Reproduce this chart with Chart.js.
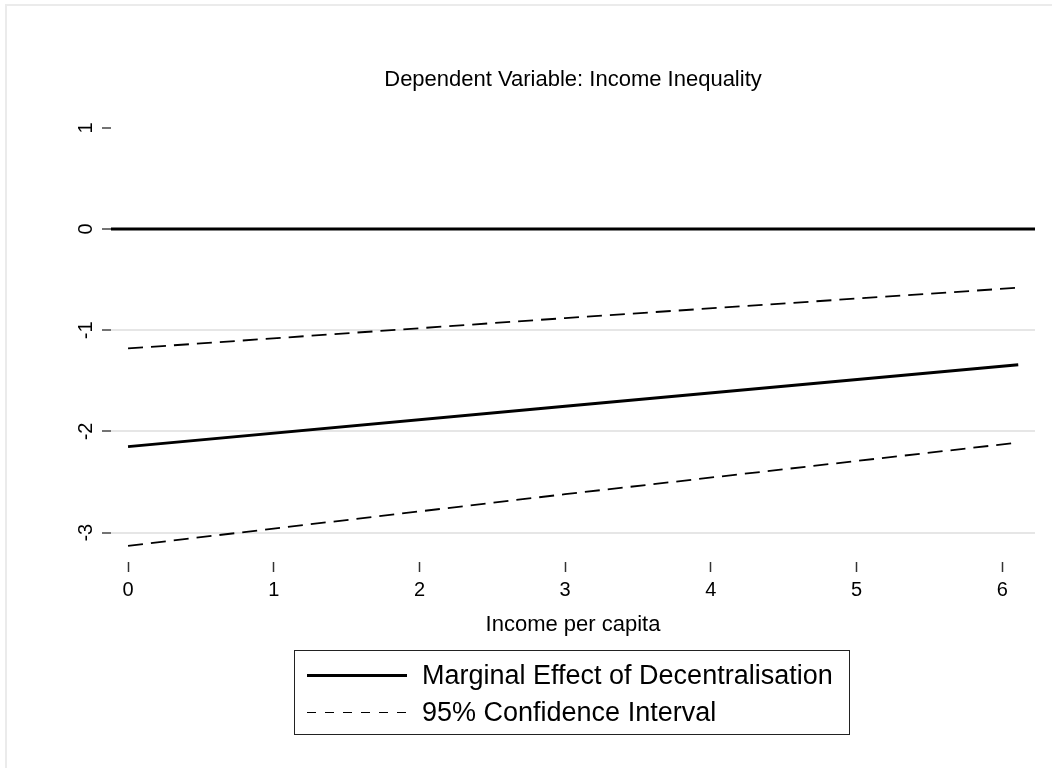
<!DOCTYPE html>
<html>
<head>
<meta charset="utf-8">
<script src="https://cdn.jsdelivr.net/npm/chart.js@4.4.1/dist/chart.umd.min.js"></script>
<style>
    body { margin: 0; background: #fff; font-family: "Liberation Sans", Arial, sans-serif; }
    #wrap { position: relative; width: 1052px; height: 768px; overflow: hidden; }
    #frame { position: absolute; left: 5px; top: 4px; width: 1100px; height: 800px;
             border-top: 2px solid #ebebeb; border-left: 2px solid #ebebeb; }
    #chart { position: absolute; left: 0; top: 0; }
    #legend { position: absolute; left: 294px; top: 650px; width: 556px; height: 85px;
              border: 1.5px solid #222; box-sizing: border-box; }
    .row { position: absolute; left: 0; height: 30px; font-size: 27px; color: #000; white-space: nowrap; }
    .row span.sample { position: absolute; left: 12px; width: 100px; }
    .row span.label { position: absolute; left: 127px; top: 0; line-height: 30px; }
    .solid { top: 14px; height: 3px; background: #000; }
    .dash { top: 15px; height: 1px; background: repeating-linear-gradient(to right, #000 0 9px, transparent 9px 18px); }
</style>
</head>
<body>
<div id="wrap">
    <div id="frame"></div>
    <canvas id="chart" width="1052" height="768"></canvas>
    <div id="legend">
        <div class="row" style="top:9px"><span class="sample solid"></span><span class="label">Marginal Effect of Decentralisation</span></div>
        <div class="row" style="top:46px"><span class="sample dash"></span><span class="label">95% Confidence Interval</span></div>
    </div>
</div>
<script>
// ข้อมูลที่อ่านจากกราฟ
const incomeX = [0, 3, 6.11];
const marginalEffect = [-2.15, -1.75, -1.34];
const ciUpper = [-1.18, -0.88, -0.58];
const ciLower = [-3.13, -2.62, -2.11];
const xTicks = [0, 1, 2, 3, 4, 5, 6];
const yTicks = [-3, -2, -1, 0, 1];
const yGridLines = [-3, -2, -1, 0];
const xRange = [-0.117, 6.225];
const yRange = [-3.29, 1.275];

const chartTitle = 'Dependent Variable: Income Inequality';
const xTitle = 'Income per capita';

const toPoints = (xs, ys) => xs.map((x, i) => ({ x: x, y: ys[i] }));

// ชื่อกราฟ และป้ายแกน y แบบหมุน
const extraText = {
    id: 'extraText',
    afterDraw(chart) {
        const ctx = chart.ctx;
        const area = chart.chartArea;
        ctx.save();
        ctx.fillStyle = '#000';
        ctx.font = '22px "Liberation Sans", Arial, sans-serif';
        ctx.textAlign = 'center';
        ctx.textBaseline = 'middle';
        ctx.fillText(chartTitle, (area.left + area.right) / 2, 80);

        const yScale = chart.scales.y;
        ctx.font = '20px "Liberation Sans", Arial, sans-serif';
        yScale.ticks.forEach(t => {
            const py = yScale.getPixelForValue(t.value);
            ctx.save();
            ctx.translate(86, py);
            ctx.rotate(-Math.PI / 2);
            ctx.fillText(String(t.value), 0, 0);
            ctx.restore();
        });
        ctx.restore();
    }
};

const ctx = document.getElementById('chart').getContext('2d');
new Chart(ctx, {
    type: 'line',
    data: {
        datasets: [
            {
                label: 'zero',
                data: toPoints(xRange, [0, 0]),
                borderColor: '#000',
                borderWidth: 3,
            },
            {
                label: 'Marginal Effect of Decentralisation',
                data: toPoints(incomeX, marginalEffect),
                borderColor: '#000',
                borderWidth: 3,
            },
            {
                label: '95% Confidence Interval',
                data: toPoints(incomeX, ciUpper),
                borderColor: '#000',
                borderWidth: 1.8,
                borderDash: [15, 8],
            },
            {
                label: '95% Confidence Interval (lower)',
                data: toPoints(incomeX, ciLower),
                borderColor: '#000',
                borderWidth: 1.8,
                borderDash: [15, 8],
            },
        ],
    },
    options: {
        responsive: false,
        animation: false,
        events: [],
        elements: { point: { radius: 0 }, line: { tension: 0 } },
        layout: { padding: { top: 100, right: 17, bottom: 126, left: 0 } },
        plugins: { legend: { display: false }, tooltip: { enabled: false } },
        scales: {
            x: {
                type: 'linear',
                min: xRange[0],
                max: xRange[1],
                afterBuildTicks: s => { s.ticks = xTicks.map(v => ({ value: v })); },
                afterFit: s => { s.height = 80; },
                border: { display: false },
                grid: { drawOnChartArea: false, tickLength: 10, tickColor: '#333', tickWidth: 1.5 },
                ticks: { color: '#000', font: { size: 20, family: '"Liberation Sans", Arial, sans-serif' }, padding: 6, maxRotation: 0 },
                title: { display: true, text: xTitle, color: '#000', font: { size: 22, family: '"Liberation Sans", Arial, sans-serif' }, padding: { top: 4, bottom: 4 } },
            },
            y: {
                type: 'linear',
                min: yRange[0],
                max: yRange[1],
                afterBuildTicks: s => { s.ticks = yTicks.map(v => ({ value: v })); },
                afterFit: s => { s.width = 111; },
                border: { display: false },
                grid: {
                    color: c => (c.tick && yGridLines.includes(c.tick.value)) ? '#e6e6e6' : 'rgba(0,0,0,0)',
                    lineWidth: 2,
                    tickLength: 9,
                    tickColor: '#444',
                    tickWidth: 1.5,
                },
                ticks: { display: false },
            },
        },
    },
    plugins: [extraText],
});
</script>
</body>
</html>
